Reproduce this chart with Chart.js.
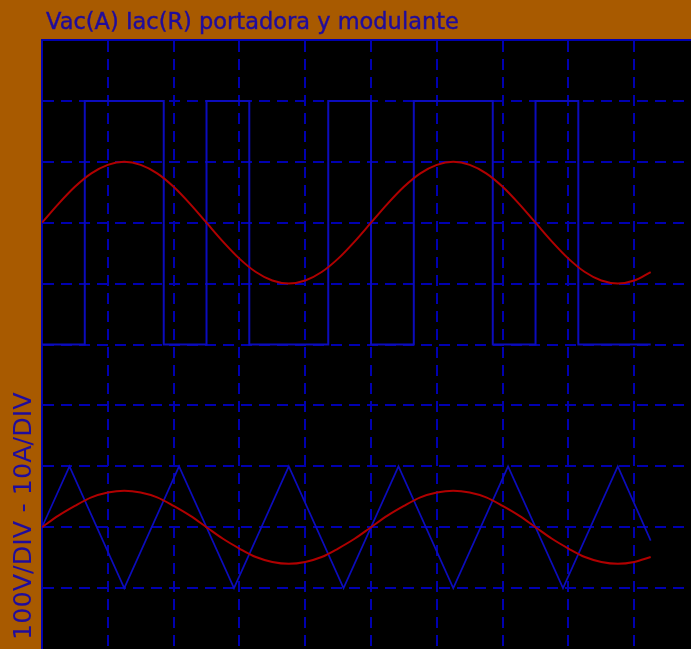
<!DOCTYPE html>
<html>
<head>
<meta charset="utf-8">
<script src="https://cdn.jsdelivr.net/npm/chart.js@4"></script>
<style>
  html, body { margin: 0; padding: 0; background: #a85a00; }
  #wrap { width: 691px; height: 649px; }
</style>
</head>
<body>
<div id="wrap"><canvas id="scope" width="691" height="649"></canvas></div>
<script>
// texts
const titleText = "Vac(A) Iac(R) portadora y modulante";
const yLabel = "100V/DIV - 10A/DIV";

// time axis in ms (4 ms per division)
const tMax = 39.45;
const tStep = 4;

// sine traces, sampled every ms
const tSin = [0, 1, 2, 3, 4, 5, 6, 7, 8, 9, 10, 11, 12, 13, 14, 15, 16, 17, 18, 19,
  20, 21, 22, 23, 24, 25, 26, 27, 28, 29, 30, 31, 32, 33, 34, 35, 36, 37];
// Iac (A), upper trace
const iac = [0, 3.1, 5.9, 8.1, 9.5, 10, 9.5, 8.1, 5.9, 3.1, 0, -3.1, -5.9, -8.1, -9.5, -10, -9.5, -8.1, -5.9, -3.1,
  0, 3.1, 5.9, 8.1, 9.5, 10, 9.5, 8.1, 5.9, 3.1, 0, -3.1, -5.9, -8.1, -9.5, -10, -9.5, -8.1];
// modulante (V), lower trace
const modulante = [0, 19, 35, 49, 57, 60, 57, 49, 35, 19, 0, -19, -35, -49, -57, -60, -57, -49, -35, -19,
  0, 19, 35, 49, 57, 60, 57, 49, 35, 19, 0, -19, -35, -49, -57, -60, -57, -49];

// portadora (V), triangle corners
const tTri = [0, 1.67, 5, 8.33, 11.67, 15, 18.33, 21.67, 25, 28.33, 31.67, 35, 37];
const portadora = [0, 100, -100, 100, -100, 100, -100, 100, -100, 100, -100, 100, -22];

// Vac (V), switching instants
const tVac = [0, 2.6, 7.4, 10, 12.6, 17.4, 20, 22.6, 27.4, 30, 32.6, 37];
const vac = [-200, 200, -200, 200, -200, 200, -200, 200, -200, 200, -200, -200];

const V_PER_DIV = 100;
const A_PER_DIV = 10;
const upperZero = 7;
const lowerZero = 2;

const BG = "#a85a00";
const GRID = "#0000b0";
const BLUE = "#0c0cbc";
const RED = "#b00000";
const TEXT = "#200c9c";

const pts = (ts, vs, zero, perDiv) => ts.map((t, i) => ({ x: t, y: zero + vs[i] / perDiv }));

const scopeFrame = {
  id: "scopeFrame",
  beforeDraw(chart) {
    const { ctx, chartArea: a } = chart;
    ctx.save();
    ctx.fillStyle = BG;
    ctx.fillRect(0, 0, chart.width, chart.height);
    ctx.fillStyle = "#000";
    ctx.fillRect(a.left, a.top, a.right - a.left, a.bottom - a.top);
    ctx.restore();
  },
  afterDraw(chart) {
    const ctx = chart.ctx;
    ctx.save();
    ctx.fillStyle = TEXT;
    ctx.strokeStyle = TEXT;
    ctx.lineWidth = 0.4;
    ctx.textBaseline = "alphabetic";
    ctx.font = "22.5px 'DejaVu Sans'";
    ctx.fillText(titleText, 46, 29);
    ctx.strokeText(titleText, 46, 29);
    ctx.translate(31, 640);
    ctx.rotate(-Math.PI / 2);
    ctx.font = "25.5px 'DejaVu Sans'";
    ctx.fillText(yLabel, 0, 0);
    ctx.restore();
  },
};

const axisGrid = {
  color: (c) => (c.tick && c.tick.value === 0 && c.scale.axis === "y" ? "rgba(0,0,0,0)" : GRID),
  lineWidth: 2,
  drawTicks: false,
};
const axisBorder = { display: true, color: GRID, width: 2, dash: [11, 7] };

new Chart(document.getElementById("scope"), {
  type: "line",
  data: {
    datasets: [
      {
        label: "Iac",
        data: pts(tSin, iac, upperZero, A_PER_DIV),
        borderColor: RED,
        borderWidth: 2,
        cubicInterpolationMode: "monotone",
      },
      {
        label: "modulante",
        data: pts(tSin, modulante, lowerZero, V_PER_DIV),
        borderColor: RED,
        borderWidth: 2,
        cubicInterpolationMode: "monotone",
      },
      {
        label: "Vac",
        data: pts(tVac, vac, upperZero, V_PER_DIV),
        borderColor: BLUE,
        borderWidth: 2,
        stepped: true,
      },
      {
        label: "portadora",
        data: pts(tTri, portadora, lowerZero, V_PER_DIV),
        borderColor: BLUE,
        borderWidth: 1.7,
      },
    ],
  },
  options: {
    responsive: false,
    animation: false,
    elements: { point: { radius: 0 } },
    layout: { padding: { left: 42, top: 40, right: 0, bottom: 0 } },
    plugins: {
      legend: { display: false },
      tooltip: { enabled: false },
      title: { display: false },
    },
    scales: {
      x: {
        type: "linear",
        position: "top",
        min: 0,
        max: tMax,
        ticks: { display: false, stepSize: tStep, includeBounds: false },
        grid: axisGrid,
        border: axisBorder,
      },
      y: {
        min: 0,
        max: 10,
        ticks: { display: false, stepSize: 1 },
        grid: axisGrid,
        border: axisBorder,
      },
    },
  },
  plugins: [scopeFrame],
});
</script>
</body>
</html>
